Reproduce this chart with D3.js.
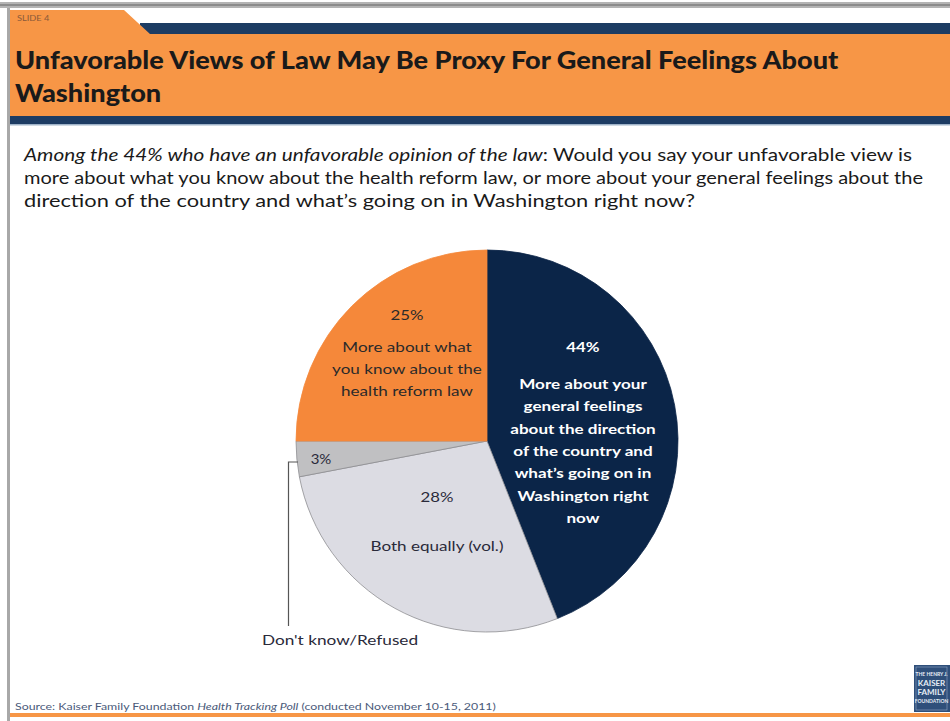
<!DOCTYPE html>
<html>
<head>
<meta charset="utf-8">
<script src="https://cdn.jsdelivr.net/npm/d3@7"></script>
<style>
  html, body { margin: 0; padding: 0; background: #ffffff; }
  svg { display: block; }
  text { font-family: Lato, "Open Sans", sans-serif; }
</style>
</head>
<body>
<svg id="chart" width="950" height="721"></svg>
<script>
// Survey responses (share of those with an unfavorable view)
const categories = [
  "More about your general feelings about the direction of the country and what's going on in Washington right now",
  "Both equally (vol.)",
  "Don't know/Refused",
  "More about what you know about the health reform law"
];
const values = [44, 28, 3, 25];
const sliceColors = ["#0b2548", "#dcdce3", "#c0c0c2", "#f5883a"];

const titleLines = [
  "Unfavorable Views of Law May Be Proxy For General Feelings About",
  "Washington"
];
const questionLead = "Among the 44% who have an unfavorable opinion of the law";
const questionLines = [
  ": Would you say your unfavorable view is",
  "more about what you know about the health reform law, or more about your general feelings about the",
  "direction of the country and what\u2019s going on in Washington right now?"
];

const svg = d3.select("#chart");
const W = 950, H = 721;

// widen a text run horizontally by factor k (slide typeface is broader than Lato)
function widen(sel, k) {
  sel.each(function () {
    const w = this.getComputedTextLength();
    d3.select(this).attr("textLength", w * k).attr("lengthAdjust", "spacingAndGlyphs");
  });
  return sel;
}

// ---- slide frame ----
svg.append("rect").attr("x", 0).attr("y", 2).attr("width", W).attr("height", 6).attr("fill", "#b4b4b4");
svg.append("rect").attr("x", 0).attr("y", 4).attr("width", W).attr("height", 2).attr("fill", "#8c8c8c");
svg.append("rect").attr("x", 7).attr("y", 8).attr("width", 3).attr("height", H - 8).attr("fill", "#a8a8a8");

// header band
svg.append("rect").attr("x", 140).attr("y", 23).attr("width", W - 140).attr("height", 11).attr("fill", "#1d3c63");
svg.append("path")
  .attr("d", "M10,10 L124,10 L150,34 L950,34 L950,117 L10,117 Z")
  .attr("fill", "#f79646");
svg.append("rect").attr("x", 10).attr("y", 116).attr("width", W - 10).attr("height", 9).attr("fill", "#1d3c63");
svg.append("rect").attr("x", 10).attr("y", 124).attr("width", W - 10).attr("height", 1.5).attr("fill", "#9fb3c8");

widen(svg.append("text").attr("x", 17).attr("y", 21)
  .attr("font-size", 8).attr("fill", "#8a5a3a").text("SLIDE 4"), 1.15);

widen(svg.selectAll("text.title").data(titleLines).enter().append("text")
  .attr("class", "title")
  .attr("x", 15).attr("y", (d, i) => 69 + i * 33)
  .attr("font-size", 25).attr("font-weight", 900).attr("fill", "#1a1a1a")
  .text(d => d), 1.085);

// question text, each line set to its measured run length on the slide
const lineWidths = [888, 899, 671];
const q = svg.append("g").attr("font-size", 17).attr("fill", "#1a1a1a");
const first = q.append("text").attr("class", "ql").attr("x", 24).attr("y", 161);
first.append("tspan").attr("font-style", "italic").text(questionLead);
first.append("tspan").text(questionLines[0]);
q.selectAll("text.qn").data(questionLines.slice(1)).enter().append("text")
  .attr("class", "ql qn").attr("x", 24).attr("y", (d, i) => 184 + i * 23).text(d => d);
q.selectAll("text.ql").each(function (d, i) {
  d3.select(this).attr("textLength", lineWidths[i]).attr("lengthAdjust", "spacingAndGlyphs");
});

// ---- pie ----
const cx = 487, cy = 441, R = 191;
const pie = d3.pie().sort(null).value(d => d)(values);
const arc = d3.arc().innerRadius(0).outerRadius(R);
const g = svg.append("g").attr("transform", `translate(${cx},${cy})`);
g.selectAll("path").data(pie).enter().append("path")
  .attr("d", arc)
  .attr("fill", (d, i) => sliceColors[i])
  .attr("stroke", (d, i) => i === 0 || i === 3 ? sliceColors[i] : "#8e8e92")
  .attr("stroke-width", 0.8);

// slice labels
const labelSets = [
  { pct: values[0] + "%", lines: ["More about your", "general feelings", "about the direction", "of the country and", "what\u2019s going on in", "Washington right", "now"],
    x: 583, pctY: 352, y0: 389, step: 22.3, color: "#ffffff", weight: 700 },
  { pct: values[1] + "%", lines: ["Both equally (vol.)"], x: 437, pctY: 502, y0: 551, step: 22, color: "#2a2a3a", weight: 400 },
  { pct: values[3] + "%", lines: ["More about what", "you know about the", "health reform law"], x: 407, pctY: 320, y0: 352, step: 22, color: "#2a2a2a", weight: 400 }
];
labelSets.forEach(s => {
  widen(svg.append("text").attr("x", s.x).attr("y", s.pctY).attr("text-anchor", "middle")
    .attr("font-size", 14).attr("font-weight", s.weight).attr("fill", s.color).text(s.pct), 1.2);
  widen(svg.selectAll(null).data(s.lines).enter().append("text")
    .attr("x", s.x).attr("y", (d, i) => s.y0 + i * s.step).attr("text-anchor", "middle")
    .attr("font-size", 14).attr("font-weight", s.weight).attr("fill", s.color).text(d => d), 1.22);
});

// small slice label with leader
widen(svg.append("text").attr("x", 321).attr("y", 464).attr("text-anchor", "middle")
  .attr("font-size", 13).attr("fill", "#2a2a3a").text(values[2] + "%"), 1.15);
svg.append("path").attr("d", "M298,462 L288.5,462 L288.5,626")
  .attr("fill", "none").attr("stroke", "#555").attr("stroke-width", 1.2);
widen(svg.append("text").attr("x", 340).attr("y", 645).attr("text-anchor", "middle")
  .attr("font-size", 14).attr("fill", "#2a2a3a").text(categories[2]), 1.23);

// ---- footer ----
const src = svg.append("text").attr("x", 15).attr("y", 710).attr("font-size", 9.5).attr("fill", "#4a5a7a");
src.append("tspan").text("Source: Kaiser Family Foundation ");
src.append("tspan").attr("font-style", "italic").text("Health Tracking Poll");
src.append("tspan").text(" (conducted November 10-15, 2011)");
widen(src, 1.3);
svg.append("rect").attr("x", 10).attr("y", 713).attr("width", W - 10).attr("height", 4).attr("fill", "#f79646");

// logo mark
const logo = svg.append("g").attr("transform", "translate(914,665)");
logo.append("rect").attr("width", 36).attr("height", 47).attr("fill", "#2f4f7a");
logo.append("rect").attr("x", 2).attr("y", 2).attr("width", 31).attr("height", 43).attr("fill", "none").attr("stroke", "#8fa6c6").attr("stroke-width", 0.6);
[["THE HENRY J.", 11, 5], ["KAISER", 21, 8], ["FAMILY", 30, 8], ["FOUNDATION", 38, 5]].forEach(([t, y, fs]) => {
  logo.append("text").attr("x", 17.5).attr("y", y).attr("text-anchor", "middle")
    .attr("font-size", fs).attr("font-weight", 700).attr("fill", "#e8eef6").text(t);
});
</script>
</body>
</html>
